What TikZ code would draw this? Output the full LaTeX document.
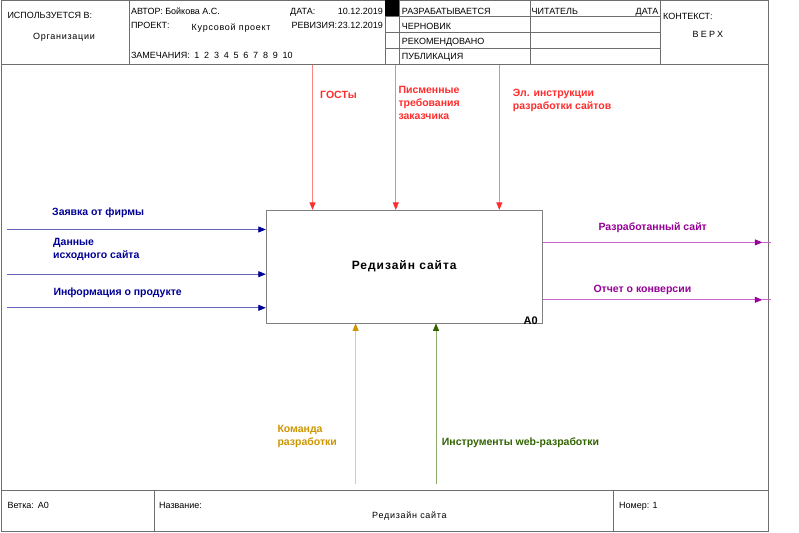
\documentclass[tikz,border=0pt]{standalone}
\usepackage{fontspec}
\setmainfont{Liberation Sans}
\usetikzlibrary{arrows.meta}

% IDEF0 colours: text/heads and the lighter line colours
\definecolor{ctltext}{RGB}{255,45,45}
\definecolor{ctlline}{RGB}{255,130,130}
\definecolor{intext}{RGB}{0,0,150}
\definecolor{inline}{RGB}{100,100,190}
\definecolor{outtext}{RGB}{150,0,150}
\definecolor{outline}{RGB}{205,100,205}
\definecolor{mechAtext}{RGB}{205,150,0}
\definecolor{mechAline}{RGB}{228,200,140}
\definecolor{mechBtext}{RGB}{50,100,0}
\definecolor{mechBline}{RGB}{140,170,110}
\definecolor{framecol}{RGB}{110,110,110}
\definecolor{boxcol}{RGB}{128,128,128}

\tikzset{
  frameline/.style={draw=framecol, line width=0.8pt},
  hdr/.style={font=\fontsize{9}{11}\selectfont, inner sep=0pt, anchor=base west},
  hdrsp/.style={font=\fontsize{9}{11}\selectfont\addfontfeatures{LetterSpace=8}, inner sep=0pt, anchor=base west},
  lbl/.style={font=\fontsize{10.5}{13}\selectfont\bfseries, inner sep=0pt, align=left},
  actbox/.style={draw=boxcol, line width=0.8pt, fill=white, inner sep=0pt,
    font=\fontsize{12}{14}\selectfont\bfseries\addfontfeatures{LetterSpace=8}},
  tip/.style={-{Triangle[length=7.5pt,width=6pt,color=#1]}},
  ctl/.style={draw=ctlline, line width=0.8pt, tip=ctltext},
  inp/.style={draw=inline, line width=0.8pt, tip=intext},
  outp/.style={draw=outline, line width=0.8pt},
  mechA/.style={draw=mechAline, line width=0.8pt, tip=mechAtext},
  mechB/.style={draw=mechBline, line width=0.8pt, tip=mechBtext},
}

\begin{document}
\begin{tikzpicture}[x=1pt,y=-1pt]
\useasboundingbox (0,0) rectangle (799,532);
\fill[white] (0,0) rectangle (799,532);

% ---- outer frame, header and footer grid ----
\draw[frameline] (1.5,0.5) rectangle (768.5,531);
\draw[frameline] (1.5,64) -- (768.5,64);
\draw[frameline] (1.5,490.5) -- (768.5,490.5);
\foreach \x in {129,385,399,530,660} \draw[frameline] (\x,0.5) -- (\x,64);
\foreach \y in {16,32,48} \draw[frameline] (385,\y) -- (660,\y);
\fill[black] (385,0.5) rectangle (399,16);
\foreach \x in {154,613} \draw[frameline] (\x,490.5) -- (\x,531);

% ---- header texts ----
\node[hdr] (usedin) at (7.3,18.3) {ИСПОЛЬЗУЕТСЯ В:};
\node[hdrsp] (org) at (33,40) {Организации};
\node[hdr] (author) at (130.8,15) {АВТОР: Бойкова А.С.};
\node[hdr] (datelbl) at (290,15) {ДАТА:};
\node[hdr, anchor=base east] (dateval) at (383,15) {10.12.2019};
\node[hdr] (project) at (130.8,28.5) {ПРОЕКТ:};
\node[hdrsp] (projname) at (191.5,30.7) {Курсовой проект};
\node[hdr] (revlbl) at (291.5,28.5) {РЕВИЗИЯ:};
\node[hdr, anchor=base east] (revval) at (383,28.5) {23.12.2019};
\node[hdr] (notes) at (130.8,58.5) {ЗАМЕЧАНИЯ:\hspace{4.5pt}1\hspace{4.8pt}2\hspace{4.8pt}3\hspace{4.8pt}4\hspace{4.8pt}5\hspace{4.8pt}6\hspace{4.8pt}7\hspace{4.8pt}8\hspace{4.8pt}9\hspace{4.8pt}10};
\node[hdr] (st1) at (401.7,15) {РАЗРАБАТЫВАЕТСЯ};
\node[hdr] (st2) at (401.7,29.5) {ЧЕРНОВИК};
\node[hdr] (st3) at (401.7,44.5) {РЕКОМЕНДОВАНО};
\node[hdr] (st4) at (401.7,59.2) {ПУБЛИКАЦИЯ};
\node[hdr] (reader) at (531.5,15) {ЧИТАТЕЛЬ};
\node[hdr, anchor=base east] (readdate) at (658.5,15) {ДАТА};
\node[hdr] (ctx) at (663,19.3) {КОНТЕКСТ:};
\node[hdr, font=\fontsize{9}{11}\selectfont\addfontfeatures{LetterSpace=25}] (top) at (692.5,37.7) {ВЕРХ};

% ---- footer texts ----
\node[hdr] (node) at (7.3,508.7) {Ветка:\hspace{4pt}A0};
\node[hdr] (title) at (159,508.7) {Название:};
\node[hdrsp] (titleval) at (372,518) {Редизайн сайта};
\node[hdr] (number) at (619,508.7) {Номер: 1};

% ---- activity box ----
\node[actbox, minimum width=276pt, minimum height=112.7pt] (a0) at (404.2,266.6) {Редизайн сайта};
\node[font=\fontsize{11}{13}\selectfont\bfseries, inner sep=0pt, anchor=south east]
  (a0num) at ([xshift=-4.6pt,yshift=-1.4pt]a0.south east) {A0};

% ---- controls ----
\coordinate (c1) at (312.5,65);
\coordinate (c2) at (395.8,65);
\coordinate (c3) at (499.3,65);
\draw[ctl] (c1) -- (c1 |- a0.north);
\draw[ctl] (c2) -- (c2 |- a0.north);
\draw[ctl] (c3) -- (c3 |- a0.north);
\node[lbl, text=ctltext, anchor=base west] (gost) at (320,98.4) {ГОСТы};
\node[lbl, text=ctltext, anchor=north west] (req) at (398.3,85.6) {Писменные\\требования\\заказчика};
\node[lbl, text=ctltext, anchor=north west] (instr) at (512.7,89) {Эл. инструкции\\разработки сайтов};

% ---- inputs ----
\coordinate (i1) at (7,229.5);
\coordinate (i2) at (7,274.2);
\coordinate (i3) at (7,307.8);
\draw[inp] (i1) -- (i1 -| a0.west);
\draw[inp] (i2) -- (i2 -| a0.west);
\draw[inp] (i3) -- (i3 -| a0.west);
\node[lbl, text=intext, anchor=base west] (order) at (52,215.8) {Заявка от фирмы};
\node[lbl, text=intext, anchor=north west] (srcdata) at (53,238.3) {Данные\\исходного сайта};
\node[lbl, text=intext, anchor=base west] (prodinfo) at (53.3,295.2) {Информация о продукте};

% ---- outputs ----
\coordinate (o1) at (771,242.4);
\coordinate (o2) at (771,299.8);
\coordinate (t1) at (762.3,242.4);
\coordinate (t2) at (762.3,299.8);
\draw[outp, tip=outtext] (t1 -| a0.east) -- (t1);
\draw[outp] (t1) -- (o1);
\draw[outp, tip=outtext] (t2 -| a0.east) -- (t2);
\draw[outp] (t2) -- (o2);
\node[lbl, text=outtext, anchor=base west] (site) at (598.3,230.8) {Разработанный сайт};
\node[lbl, text=outtext, anchor=base west] (report) at (593.3,292.8) {Отчет о конверсии};

% ---- mechanisms ----
\coordinate (m1) at (355.6,484);
\coordinate (m2) at (436,484);
\draw[mechA] (m1) -- (m1 |- a0.south);
\draw[mechB] (m2) -- (m2 |- a0.south);
\node[lbl, text=mechAtext, anchor=north west] (team) at (277.3,425) {Команда\\разработки};
\node[lbl, text=mechBtext, anchor=base west] (tools) at (441.7,445) {Инструменты web-разработки};
\end{tikzpicture}
\end{document}
